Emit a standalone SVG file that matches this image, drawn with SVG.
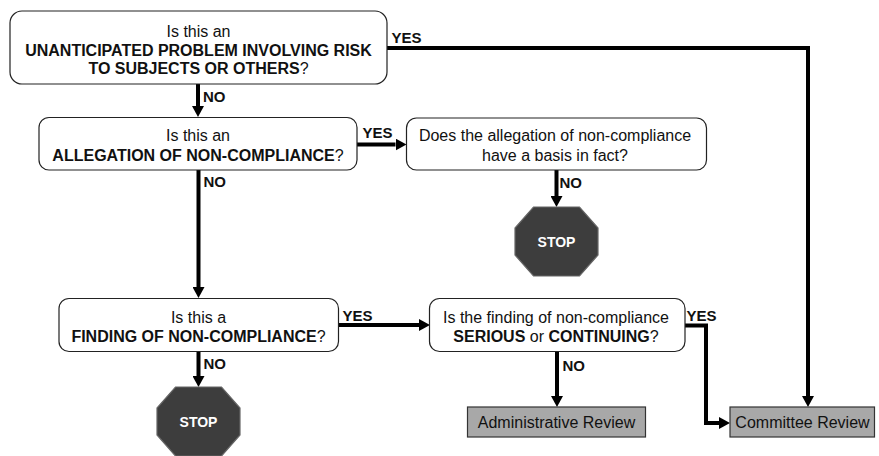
<svg xmlns="http://www.w3.org/2000/svg" width="879" height="456" viewBox="0 0 879 456">
<defs>
<style>
text{font-family:"Liberation Sans",Arial,sans-serif;fill:#111}
.q{font-size:16px;text-anchor:middle}
.b{font-weight:bold}
.lbl{font-size:15px;font-weight:bold}
.box{fill:#fff;stroke:#222;stroke-width:1.2}
.gray{fill:#a8a8a8;stroke:#333;stroke-width:1.2}
.stop{fill:#3d3d3d;stroke:#666;stroke-width:1.2}
.stoptxt{font-size:14px;font-weight:bold;fill:#fff;text-anchor:middle}
.c{fill:none;stroke:#000;stroke-width:4;stroke-linejoin:miter}
</style>
<marker id="ah" viewBox="0 0 11 12" refX="0" refY="6" markerWidth="11" markerHeight="12" markerUnits="userSpaceOnUse" orient="auto">
<path d="M0,0 L11,6 L0,12 z" fill="#000"/>
</marker>
</defs>
<rect width="879" height="456" fill="#fff"/>

<g id="connectors">
<path class="c" d="M198,84 V106" marker-end="url(#ah)"/>
<path class="c" d="M387,48 H808 V396" marker-end="url(#ah)"/>
<path class="c" d="M357,144.5 H395.5" marker-end="url(#ah)"/>
<path class="c" d="M198.5,170 V287" marker-end="url(#ah)"/>
<path class="c" d="M556.5,170 V196" marker-end="url(#ah)"/>
<path class="c" d="M338.5,325 H419" marker-end="url(#ah)"/>
<path class="c" d="M198.5,352 V376" marker-end="url(#ah)"/>
<path class="c" d="M557,352 V396" marker-end="url(#ah)"/>
<path class="c" d="M685,325.5 H706 V423 H719" marker-end="url(#ah)"/>
<text class="lbl" x="203" y="102">NO</text>
<text class="lbl" x="391.5" y="42.5">YES</text>
<text class="lbl" x="362.5" y="138">YES</text>
<text class="lbl" x="203.5" y="186.5">NO</text>
<text class="lbl" x="559.5" y="188">NO</text>
<text class="lbl" x="342.5" y="320.5">YES</text>
<text class="lbl" x="203.5" y="369">NO</text>
<text class="lbl" x="562.5" y="370.5">NO</text>
<text class="lbl" x="686.5" y="320.5">YES</text>
</g>

<g id="q1">
<rect class="box" x="10" y="11" width="377" height="73" rx="12"/>
<text class="q" x="198.5" y="37">Is this an</text>
<text class="q b" x="198.5" y="55.5">UNANTICIPATED PROBLEM INVOLVING RISK</text>
<text class="q" x="198.5" y="74"><tspan class="b">TO SUBJECTS OR OTHERS</tspan>?</text>
</g>

<g id="q2">
<rect class="box" x="39" y="117.5" width="318" height="52.5" rx="10"/>
<text class="q" x="198" y="141">Is this an</text>
<text class="q" x="198" y="160.5"><tspan class="b">ALLEGATION OF NON-COMPLIANCE</tspan>?</text>
</g>

<g id="q3">
<rect class="box" x="406.5" y="118" width="300" height="52" rx="10"/>
<text class="q" x="555" y="141">Does the allegation of non-compliance</text>
<text class="q" x="555" y="160.5">have a basis in fact?</text>
</g>

<g id="stop1">
<polygon class="stop" points="533.5,207 579.5,207 598,228 598,255 579.5,276 533.5,276 515,255 515,228"/>
<text class="stoptxt" x="556.5" y="246.5">STOP</text>
</g>

<g id="q4">
<rect class="box" x="59" y="298.5" width="279.5" height="53" rx="10"/>
<text class="q" x="198.5" y="322.5">Is this a</text>
<text class="q" x="198.5" y="341.5"><tspan class="b">FINDING OF NON-COMPLIANCE</tspan>?</text>
</g>

<g id="q5">
<rect class="box" x="429.5" y="298.5" width="255.5" height="53" rx="10"/>
<text class="q" x="556" y="322.5">Is the finding of non-compliance</text>
<text class="q" x="556" y="341.5"><tspan class="b">SERIOUS</tspan> or <tspan class="b">CONTINUING</tspan>?</text>
</g>

<g id="stop2">
<polygon class="stop" points="175.5,387 221.5,387 240,408 240,435 221.5,456 175.5,456 157,435 157,408"/>
<text class="stoptxt" x="198.5" y="426.5">STOP</text>
</g>

<g id="admin">
<rect class="gray" x="467.5" y="407" width="178" height="30"/>
<text class="q" x="556.5" y="427.5">Administrative Review</text>
</g>

<g id="committee">
<rect class="gray" x="730" y="407" width="144.5" height="30"/>
<text class="q" x="802.5" y="427.5">Committee Review</text>
</g>
</svg>
